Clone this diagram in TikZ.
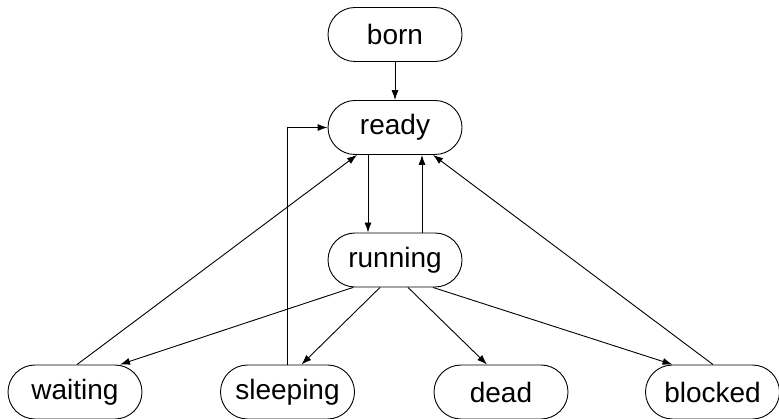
\documentclass[tikz,border=0pt]{standalone}
\usepackage{fontspec}
\setmainfont{Liberation Sans}
\usetikzlibrary{arrows.meta}
\begin{document}
\begin{tikzpicture}[x=1pt,y=-1pt,
  state/.style={draw=black, line width=0.9pt, rectangle, rounded corners=27pt,
    minimum width=134pt, minimum height=54pt, inner sep=0pt,
    font=\fontsize{28}{32}\selectfont},
  edge/.style={line width=0.9pt, -{Latex[length=10pt,width=7pt]}}]
\useasboundingbox (0,0) rectangle (779,419);
\node[state] (born) at (395,34.5) {born};
\node[state] (ready) at (395,127.5) {ready};
\node[state] (running) at (395,260) {running};
\node[state] (waiting) at (75,392) {waiting};
\node[state] (sleeping) at (287.5,392) {sleeping};
\node[state] (dead) at (501,392) {dead};
\node[state] (blocked) at (712.5,392) {blocked};
\draw[edge] (born.south) -- (ready.north);
\draw[edge] ([xshift=-27pt]ready.south) -- ([xshift=-27pt]running.north);
\draw[edge] ([xshift=27pt]running.north) -- ([xshift=27pt]ready.south);
\draw[edge] ([xshift=2pt]waiting.north) -- ([xshift=-38pt]ready.south);
\draw[edge] (sleeping.north) |- (ready.west);
\draw[edge] ([xshift=0.5pt]blocked.north) -- ([xshift=38pt]ready.south);
\draw[edge] ([xshift=-42pt]running.south) -- ([xshift=45pt]waiting.north);
\draw[edge] ([xshift=-15pt]running.south) -- ([xshift=14pt]sleeping.north);
\draw[edge] ([xshift=13pt]running.south) -- ([xshift=-14pt]dead.north);
\draw[edge] ([xshift=38pt]running.south) -- ([xshift=-40pt]blocked.north);
\end{tikzpicture}
\end{document}
